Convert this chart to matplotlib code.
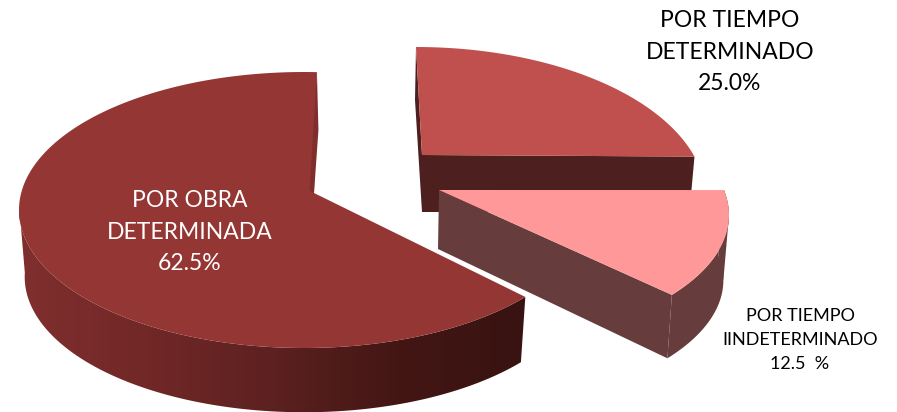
import numpy as np
import matplotlib
matplotlib.use("Agg")
import matplotlib.pyplot as plt
from matplotlib.patches import Polygon
from matplotlib.colors import LinearSegmentedColormap

plt.rcParams['font.family'] = ['Lato', 'DejaVu Sans']

names = ["POR TIEMPO\nDETERMINADO", "POR TIEMPO\nIINDETERMINADO", "POR OBRA\nDETERMINADA"]
shares = [25.0, 12.5, 62.5]
value_text = ["25.0%", "12.5  %", "62.5%"]

top_colors = ["#c0504d", "#ff9999", "#943634"]
wall_colors = ["#4d1f1e", "#663c3c", None]
shade_colors = ["#7f2f2e", "#712827", "#5c2120", "#431614", "#381311"]

W, H = 897, 412
fig = plt.figure(figsize=(W / 100, H / 100), dpi=100)
ax = fig.add_axes([0, 0, 1, 1])


def rim(geo, share, n=160):
    sweep = share * 3.6 * geo["warp"] * geo["sense"]
    return np.radians(np.linspace(geo["start"], geo["start"] + sweep, n))


def pt(geo, t, floor=False):
    k = geo["shrink"] if floor else 1.0
    dy = geo["depth"] if floor else 0.0
    return (geo["cx"] + geo["rx"] * k * np.cos(t),
            geo["cy"] + dy - geo["ry"] * k * np.sin(t))


geo_a = dict(cx=416, cy=199, rx=290, ry=152, start=90, warp=0.82, sense=-1,
             apex=(422, 155), depth=57, shrink=0.99)
geo_b = dict(cx=449, cy=215, rx=280, ry=132, start=10.9, warp=1.07, sense=-1,
             apex=(439, 190), depth=65, shrink=0.98)
geo_c = dict(cx=304, cy=210, rx=285, ry=138, start=87.4, warp=1.038, sense=1,
             apex=(314, 193), depth=67, shrink=0.98)

# --- upper wedge
t = rim(geo_a, shares[0])
x, y = pt(geo_a, t)
ex, ey = x[-1], y[-1]
ax.add_patch(Polygon([(x[0], y[0]), (x[0] - 1, y[0] + 53), (422, 212), (422, 155)],
                     fc=wall_colors[0], ec="none"))
ax.add_patch(Polygon([(422, 155), (ex, ey), (ex - 5, 212), (422, 212)],
                     fc=wall_colors[0], ec="none"))
ax.add_patch(Polygon(np.r_[[geo_a["apex"]], np.c_[x, y]], fc=top_colors[0], ec="none"))

# --- exploded small wedge
t = rim(geo_b, shares[1])
x, y = pt(geo_b, t)
fx, fy = pt(geo_b, t, floor=True)
ax_, ay_ = geo_b["apex"]
ax.add_patch(Polygon([(ax_, ay_), (x[-1], y[-1]), (fx[-1], fy[-1]), (ax_ - 1, ay_ + 59)],
                     fc=wall_colors[1], ec="none"))
ax.add_patch(Polygon(np.r_[np.c_[x, y], np.c_[fx, fy][::-1]], fc=wall_colors[1], ec="none"))
side_top = pt(geo_b, np.array([0.0]))
side_low = pt(geo_b, np.array([0.0]), floor=True)
ax.add_patch(Polygon([(side_top[0][0], side_top[1][0]), (side_low[0][0], side_low[1][0]),
                      (fx[0], fy[0]), (x[0], y[0])], fc=wall_colors[1], ec="none"))
ax.add_patch(Polygon(np.r_[[geo_b["apex"]], np.c_[x, y]], fc=top_colors[1], ec="none"))

# --- big wedge: outer wall with a left-to-right shade, then its top face
t = rim(geo_c, shares[2], n=320)
x, y = pt(geo_c, t)
fx, fy = pt(geo_c, t, floor=True)
front = np.degrees(t) >= 178
wall = Polygon(np.r_[np.c_[x[front], y[front]], np.c_[fx[front], fy[front]][::-1]],
               fc="none", ec="none", transform=ax.transData)
ax.add_patch(wall)
shade = LinearSegmentedColormap.from_list("shade", shade_colors)
img = ax.imshow(np.linspace(0, 1, 512)[None, :], cmap=shade, aspect="auto",
                extent=(19, 526, 430, 150), interpolation="bilinear", zorder=1)
img.set_clip_path(wall)
ax.add_patch(Polygon(np.r_[[geo_c["apex"]], np.c_[x, y]], fc=top_colors[2], ec="none", zorder=2))
ax.add_patch(Polygon([(x[0], y[0]), (x[0] + 1.5, y[0] + 58), (314, 193), (309.5, 190.5)],
                     fc="#7f2e2d", ec="none", zorder=2))

# --- labels
ax.text(730, 52, f"{names[0]}\n{value_text[0]}", ha="center", va="center",
        fontsize=16.5, color="black", linespacing=1.63)
ax.text(190, 232, f"{names[2]}\n{value_text[2]}", ha="center", va="center",
        fontsize=16.5, color="white", linespacing=1.63, zorder=3)
ax.text(800, 340, f"{names[1]}\n{value_text[1]}", ha="center", va="center",
        fontsize=13, color="black", linespacing=1.65)

ax.set_xlim(0, W)
ax.set_ylim(H, 0)
ax.axis("off")
fig.savefig("out.png", dpi=100)
